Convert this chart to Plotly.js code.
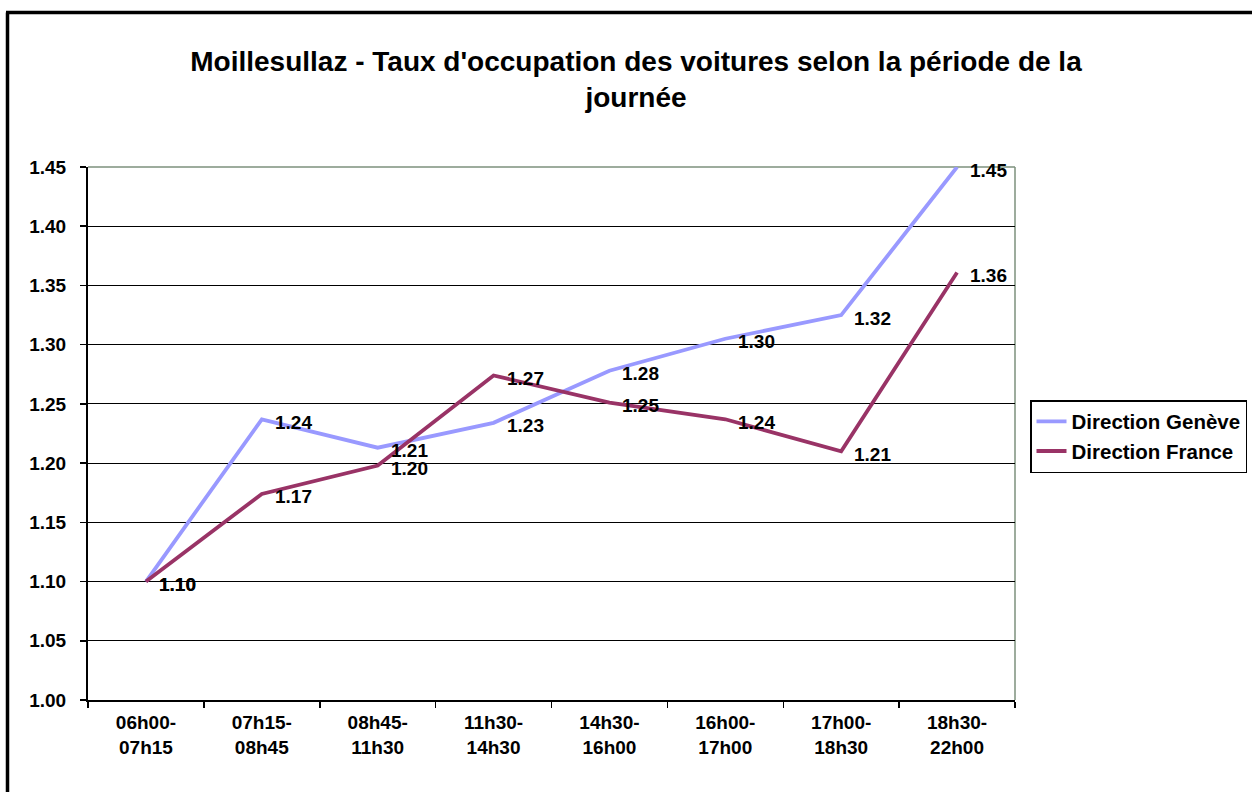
<!DOCTYPE html>
<html>
<head>
<meta charset="utf-8">
<script src="https://cdn.plot.ly/plotly-3.0.1.min.js"></script>
<style>html,body{margin:0;padding:0;background:#fff;}#chart{width:1252px;height:792px;}</style>
</head>
<body>
<div id="chart"></div>
<script>
const categories = ['06h00-<br>07h15','07h15-<br>08h45','08h45-<br>11h30','11h30-<br>14h30','14h30-<br>16h00','16h00-<br>17h00','17h00-<br>18h30','18h30-<br>22h00'];
const geneve = [1.100, 1.237, 1.213, 1.234, 1.278, 1.305, 1.325, 1.450];
const france = [1.100, 1.174, 1.198, 1.274, 1.251, 1.237, 1.210, 1.361];
const seriesNames = ['Direction Genève', 'Direction France'];
const seriesColors = ['#9999FF', '#993366'];

const FONT = 'Liberation Sans, Arial, sans-serif';

const traces = [geneve, france].map((vals, i) => ({
  type: 'scatter', mode: 'lines', x: categories, y: vals, name: seriesNames[i],
  line: {color: seriesColors[i], width: 3.8}, hoverinfo: 'skip'
}));

const annotations = [];
[geneve, france].forEach(vals => {
  vals.forEach((v, j) => {
    annotations.push({x: categories[j], y: v, xref: 'x', yref: 'y', text: v.toFixed(2),
      showarrow: false, xanchor: 'left', yanchor: 'middle', xshift: 11, yshift: -3,
      font: {family: FONT, size: 19, color: '#000', weight: 'bold'}});
  });
});

const L = 88, R = 1015, T = 167, B = 700;
const pw = R - L, ph = B - T;
const px = x => (x - L) / pw;
const py = y => (B - y) / ph;

const layout = {
  width: 1252, height: 792,
  margin: {l: L, r: 1252 - R, t: T, b: 792 - B, pad: 0, autoexpand: false},
  paper_bgcolor: '#fff', plot_bgcolor: '#fff',
  font: {family: FONT, color: '#000'},
  title: {text: "Moillesullaz - Taux d'occupation des voitures selon la période de la<br>journée",
    font: {family: FONT, size: 28, color: '#000', weight: 'bold'},
    xref: 'paper', x: px(636), xanchor: 'center', yref: 'container', y: 1 - 71/792, yanchor: 'top'},
  xaxis: {type: 'category', range: [-0.5, 7.5], showgrid: false, zeroline: false,
    showline: true, linecolor: '#000', linewidth: 2,
    ticks: 'outside', ticklen: 6, tickcolor: '#000', tickwidth: 1.5, tickson: 'boundaries',
    tickfont: {family: FONT, size: 19, color: '#000', weight: 'bold'}, ticklabelstandoff: 4, fixedrange: true},
  yaxis: {range: [1.0, 1.45], dtick: 0.05, tick0: 1.0, tickformat: '.2f',
    showgrid: true, gridcolor: '#000', gridwidth: 1, zeroline: false,
    showline: true, linecolor: '#000', linewidth: 2,
    ticks: 'outside', ticklen: 6, tickcolor: '#000', tickwidth: 1.5,
    tickfont: {family: FONT, size: 19, color: '#000', weight: 'bold'}, ticklabelstandoff: 10, fixedrange: true},
  showlegend: true,
  legend: {x: px(1030), y: py(400), xanchor: 'left', yanchor: 'top', xref: 'paper', yref: 'paper',
    bgcolor: '#fff', bordercolor: '#000', borderwidth: 1.5,
    font: {family: FONT, size: 20.5, color: '#000', weight: 'bold'}, tracegroupgap: 0, itemwidth: 30},
  annotations: annotations,
  shapes: [
    {type: 'line', xref: 'paper', yref: 'paper', x0: 0, x1: 1, y0: 1, y1: 1, line: {color: '#7d917d', width: 1.5}, layer: 'below'},
    {type: 'line', xref: 'paper', yref: 'paper', x0: 1, x1: 1, y0: 0, y1: 1, line: {color: '#7d917d', width: 1.5}, layer: 'below'},
    {type: 'line', xref: 'paper', yref: 'paper', x0: px(7.5), x1: px(7.5), y0: py(12.5), y1: py(820), line: {color: '#000', width: 3.5}},
    {type: 'line', xref: 'paper', yref: 'paper', x0: px(6), x1: px(1280), y0: py(12.5), y1: py(12.5), line: {color: '#000', width: 3.5}}
  ]
};

Plotly.newPlot('chart', traces, layout, {displayModeBar: false, staticPlot: true});
</script>
</body>
</html>
